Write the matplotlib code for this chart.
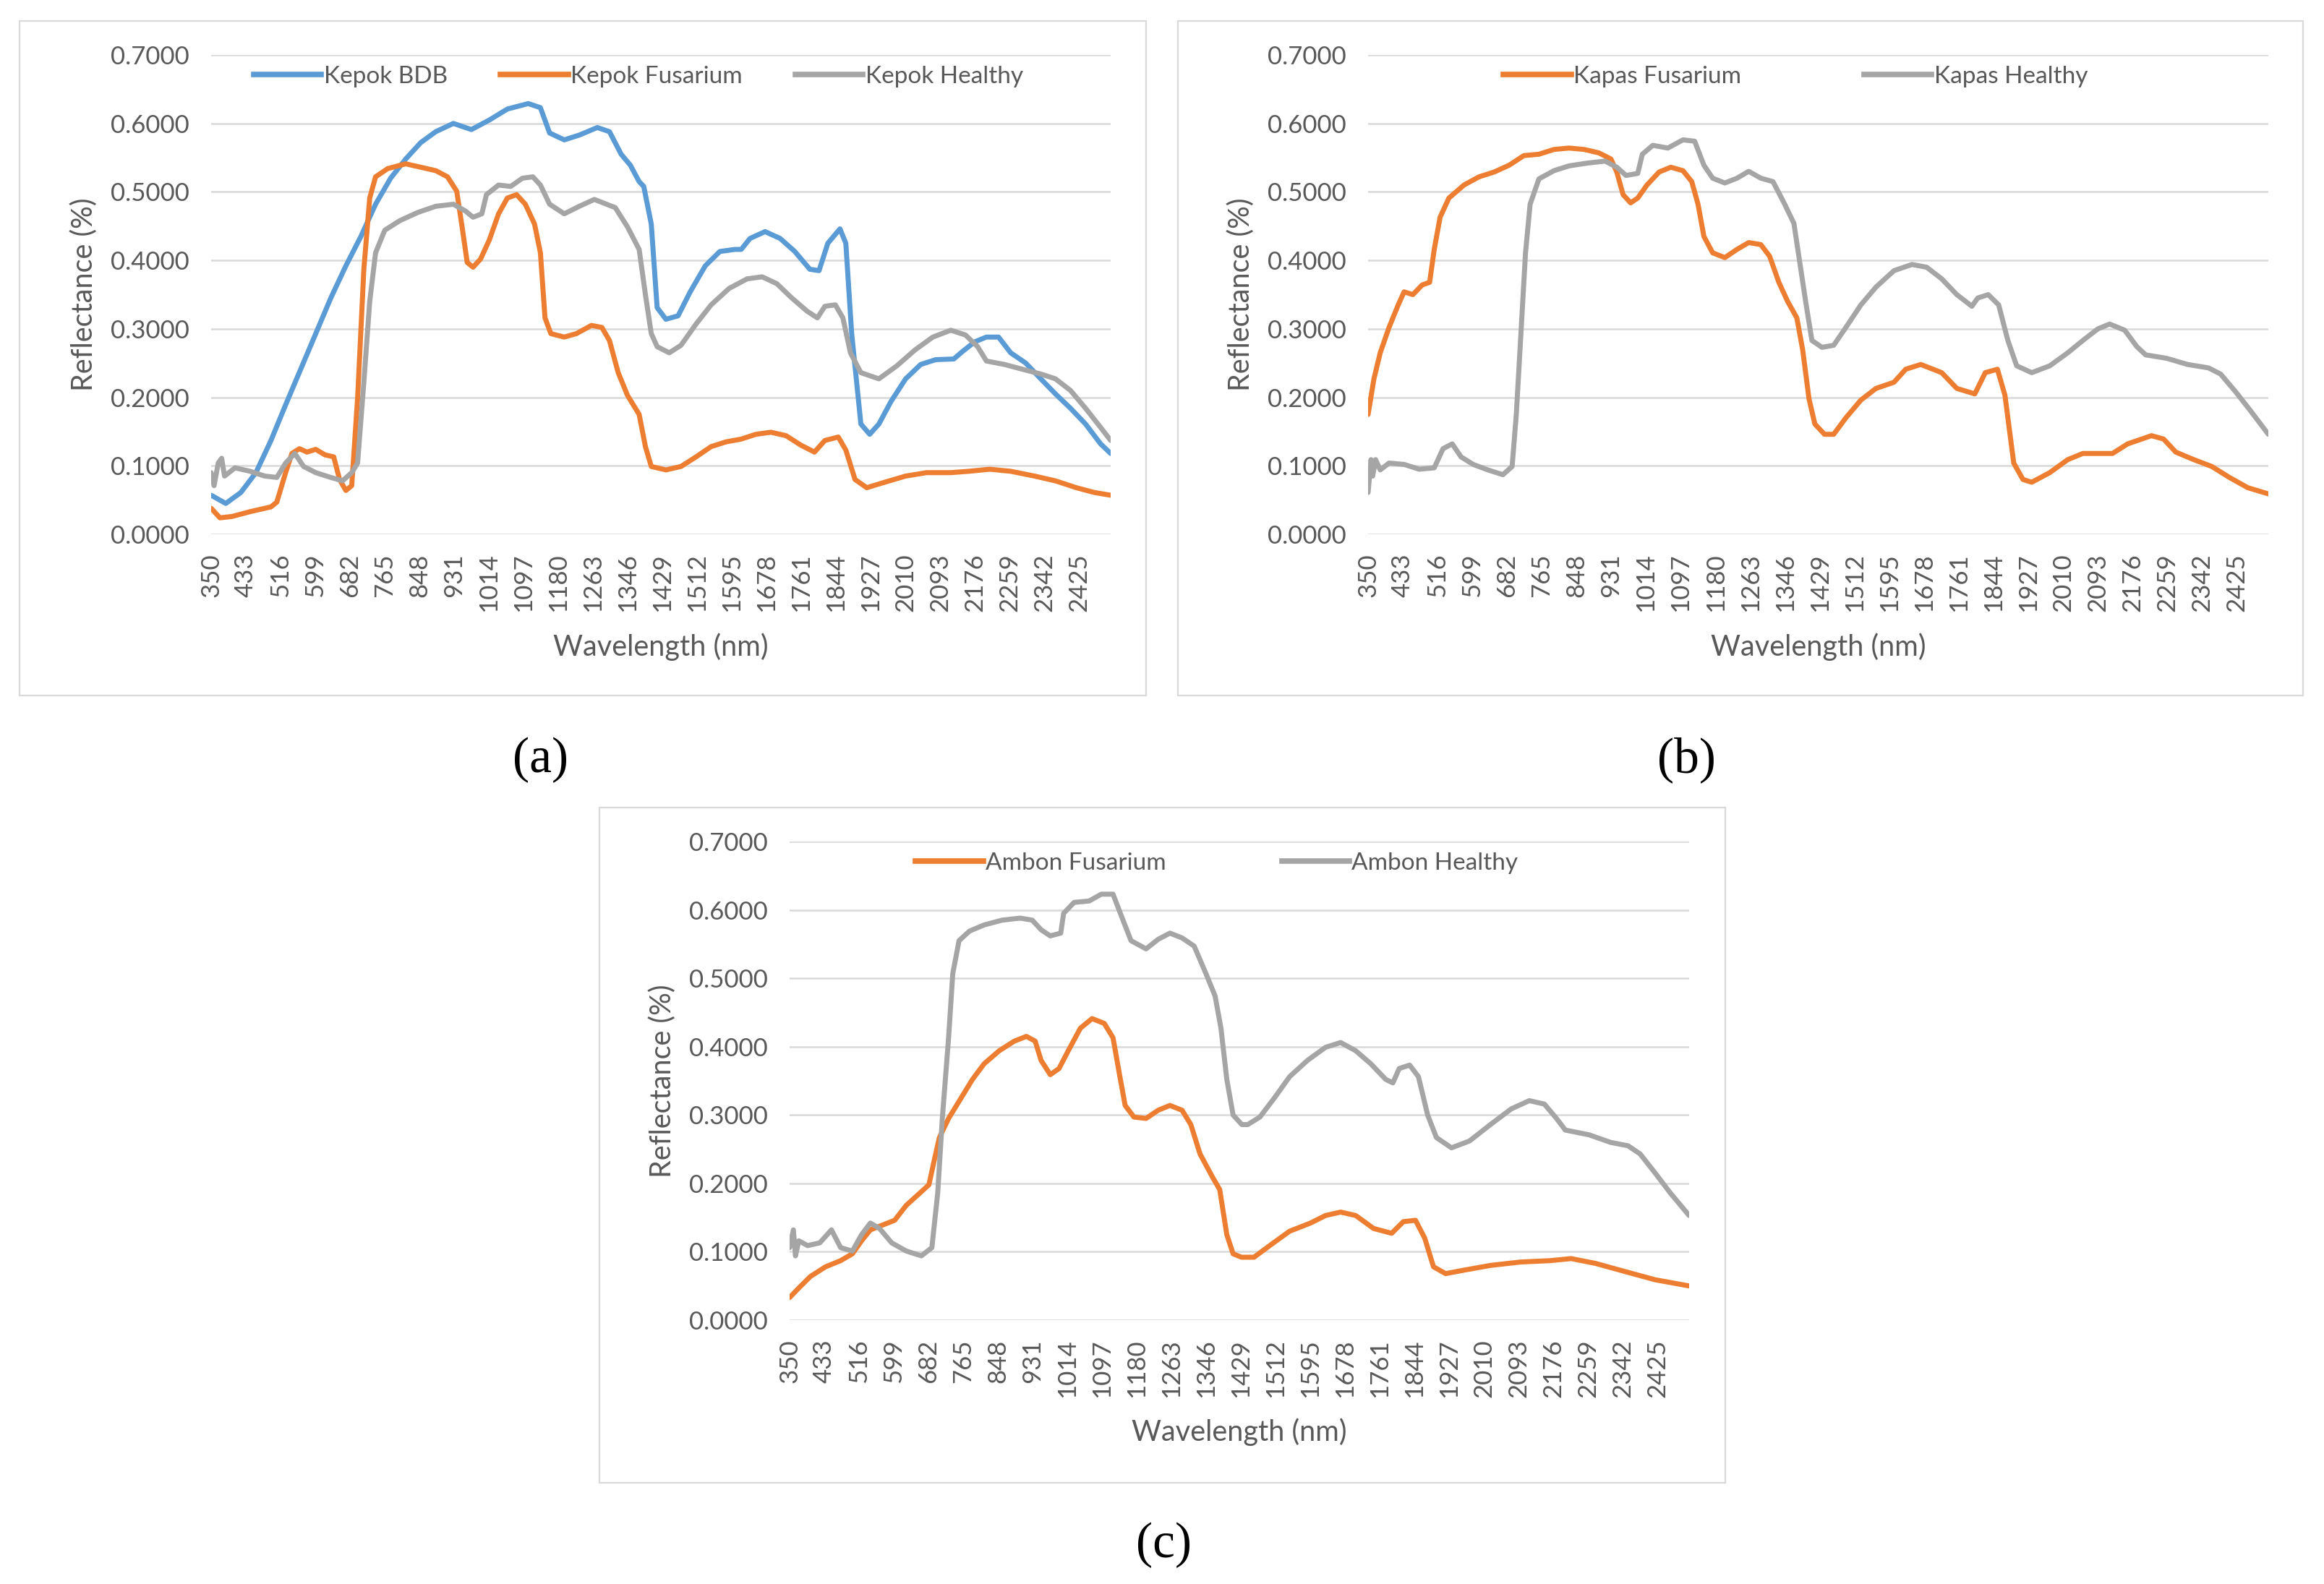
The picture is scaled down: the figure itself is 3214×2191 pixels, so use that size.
import matplotlib
matplotlib.use("Agg")
import matplotlib.pyplot as plt
from matplotlib.patches import Rectangle
from matplotlib.lines import Line2D
import numpy as np

plt.rcParams['font.family'] = ['Lato', 'DejaVu Sans']

# ---------------- data (wavelength nm, reflectance) ----------------
kepok_bdb = [(350, .057), (385, .045), (421, .061), (457, .090), (493, .137), (528, .189), (564, .241),
             (600, .293), (636, .345), (672, .392), (708, .435), (743, .482), (779, .520), (815, .548),
             (851, .572), (887, .588), (929, .600), (972, .591), (1015, .605), (1058, .621), (1108, .629),
             (1137, .623), (1159, .586), (1194, .576), (1230, .583), (1273, .594), (1302, .588), (1330, .555),
             (1352, .539), (1373, .515), (1384, .508), (1402, .453), (1416, .331), (1437, .314), (1466, .319),
             (1495, .354), (1531, .392), (1566, .413), (1602, .416), (1617, .416), (1638, .432), (1674, .442),
             (1710, .432), (1745, .413), (1781, .387), (1803, .385), (1824, .425), (1853, .446), (1867, .425),
             (1881, .293), (1903, .161), (1924, .146), (1946, .161), (1975, .194), (2010, .227), (2046, .248),
             (2082, .255), (2125, .256), (2146, .267), (2175, .281), (2203, .288), (2232, .288), (2261, .265),
             (2297, .250), (2333, .227), (2368, .205), (2404, .184), (2440, .161), (2476, .132), (2500, .118)]

kepok_fusarium = [(350, .038), (371, .024), (400, .026), (443, .033), (493, .040), (507, .047), (528, .090),
                  (543, .118), (561, .125), (579, .120), (600, .124), (622, .116), (643, .113), (657, .080),
                  (672, .064), (686, .071), (700, .198), (715, .387), (729, .491), (743, .522), (772, .534),
                  (815, .541), (851, .536), (887, .531), (915, .522), (937, .501), (951, .444), (962, .397),
                  (976, .390), (994, .402), (1015, .430), (1037, .468), (1058, .491), (1080, .496), (1101, .482),
                  (1123, .453), (1137, .411), (1148, .316), (1162, .293), (1194, .288), (1223, .293), (1259, .305),
                  (1284, .302), (1302, .283), (1323, .236), (1345, .203), (1373, .175), (1388, .128), (1402, .099),
                  (1437, .094), (1473, .099), (1509, .113), (1545, .128), (1581, .135), (1617, .139), (1652, .146),
                  (1688, .149), (1724, .144), (1760, .130), (1792, .120), (1817, .137), (1849, .142), (1867, .123),
                  (1889, .080), (1917, .068), (1960, .076), (2010, .085), (2060, .090), (2118, .090), (2161, .092),
                  (2211, .095), (2261, .092), (2318, .085), (2368, .078), (2418, .068), (2461, .061), (2500, .057)]

kepok_healthy = [(350, .090), (357, .071), (367, .104), (375, .111), (382, .085), (407, .097), (443, .092),
                 (478, .085), (507, .083), (528, .104), (550, .118), (571, .099), (600, .090), (636, .083),
                 (664, .078), (686, .090), (700, .104), (715, .222), (729, .340), (743, .411), (765, .444),
                 (801, .458), (844, .470), (887, .479), (929, .482), (958, .472), (976, .463), (997, .468),
                 (1008, .496), (1037, .510), (1066, .508), (1094, .520), (1119, .522), (1137, .510), (1159, .482),
                 (1194, .468), (1230, .479), (1266, .489), (1295, .482), (1316, .477), (1345, .449), (1373, .416),
                 (1388, .350), (1402, .293), (1416, .274), (1445, .265), (1473, .276), (1509, .307), (1545, .335),
                 (1588, .359), (1631, .373), (1667, .376), (1702, .366), (1738, .345), (1774, .326), (1799, .316),
                 (1817, .333), (1842, .335), (1860, .316), (1878, .265), (1903, .236), (1946, .227), (1989, .246),
                 (2032, .269), (2075, .288), (2118, .298), (2153, .291), (2182, .274), (2203, .253), (2246, .248),
                 (2289, .241), (2333, .234), (2368, .227), (2404, .210), (2440, .184), (2476, .156), (2500, .137)]

kapas_fusarium = [(350, .175), (364, .227), (379, .265), (400, .302), (422, .335), (436, .354), (457, .350),
                  (479, .364), (497, .368), (508, .416), (522, .463), (543, .491), (579, .510), (615, .522),
                  (651, .529), (687, .539), (722, .553), (758, .555), (794, .562), (830, .564), (866, .562),
                  (901, .557), (930, .548), (944, .529), (959, .496), (977, .484), (994, .491), (1016, .510),
                  (1045, .529), (1073, .536), (1102, .531), (1123, .515), (1138, .482), (1152, .435), (1173, .411),
                  (1202, .404), (1231, .416), (1259, .426), (1288, .423), (1309, .406), (1331, .368), (1352, .340),
                  (1374, .316), (1388, .269), (1403, .198), (1417, .161), (1440, .146), (1462, .146), (1491, .170),
                  (1527, .196), (1563, .213), (1606, .222), (1634, .241), (1670, .248), (1720, .236), (1756, .213),
                  (1799, .205), (1824, .236), (1853, .241), (1871, .203), (1892, .104), (1914, .080), (1935, .076),
                  (1978, .090), (2021, .109), (2057, .118), (2128, .118), (2164, .132), (2221, .144), (2250, .139),
                  (2279, .120), (2322, .109), (2365, .099), (2407, .083), (2451, .068), (2500, .059)]

kapas_healthy = [(350, .061), (357, .109), (361, .085), (368, .109), (379, .094), (400, .104), (436, .102),
                 (472, .095), (508, .097), (529, .125), (551, .132), (572, .113), (601, .102), (636, .094),
                 (672, .087), (694, .099), (704, .175), (715, .293), (726, .411), (737, .482), (758, .519),
                 (794, .531), (830, .538), (873, .542), (916, .545), (944, .536), (966, .524), (994, .527),
                 (1005, .555), (1030, .568), (1066, .564), (1102, .576), (1130, .574), (1152, .539), (1173, .520),
                 (1202, .513), (1231, .520), (1259, .530), (1288, .520), (1317, .515), (1345, .482), (1367, .454),
                 (1381, .397), (1395, .340), (1410, .283), (1434, .273), (1462, .276), (1491, .302), (1527, .335),
                 (1563, .361), (1606, .385), (1649, .394), (1684, .390), (1720, .373), (1756, .350), (1792, .333),
                 (1806, .345), (1831, .350), (1856, .335), (1878, .283), (1899, .246), (1935, .236), (1978, .246),
                 (2021, .265), (2057, .283), (2093, .300), (2121, .307), (2157, .298), (2186, .274), (2207, .262),
                 (2257, .257), (2307, .248), (2357, .243), (2386, .234), (2422, .208), (2458, .180), (2500, .146)]

ambon_fusarium = [(350, .033), (372, .047), (400, .064), (436, .078), (472, .087), (500, .097), (522, .116),
                  (543, .132), (572, .139), (601, .146), (629, .168), (658, .184), (683, .198), (694, .229),
                  (708, .267), (730, .295), (758, .323), (787, .352), (815, .375), (851, .394), (887, .408),
                  (916, .415), (937, .408), (951, .380), (973, .359), (994, .368), (1016, .394), (1045, .427),
                  (1073, .441), (1102, .434), (1123, .413), (1138, .361), (1152, .314), (1173, .297), (1202, .295),
                  (1231, .307), (1259, .314), (1288, .307), (1309, .286), (1331, .243), (1360, .210), (1378, .191),
                  (1395, .125), (1410, .097), (1430, .092), (1460, .092), (1502, .111), (1545, .130), (1595, .142),
                  (1631, .153), (1667, .158), (1703, .153), (1746, .134), (1789, .127), (1817, .144), (1846, .146),
                  (1868, .120), (1889, .078), (1918, .068), (1961, .073), (2025, .080), (2097, .085), (2168, .087),
                  (2218, .090), (2276, .083), (2347, .071), (2419, .059), (2500, .050)]

ambon_healthy = [(350, .106), (359, .132), (364, .094), (372, .116), (393, .109), (422, .113), (450, .132),
                 (472, .106), (500, .101), (522, .125), (543, .142), (565, .134), (594, .113), (629, .101),
                 (665, .094), (690, .106), (704, .186), (715, .295), (730, .413), (740, .507), (755, .555),
                 (780, .569), (815, .578), (858, .585), (901, .588), (930, .585), (951, .571), (973, .562),
                 (998, .566), (1005, .595), (1030, .611), (1066, .613), (1095, .623), (1123, .623), (1145, .588),
                 (1166, .555), (1202, .543), (1231, .557), (1259, .566), (1288, .559), (1317, .547), (1345, .507),
                 (1367, .474), (1381, .427), (1395, .352), (1410, .300), (1431, .286), (1445, .286), (1474, .297),
                 (1510, .326), (1545, .356), (1588, .380), (1631, .399), (1667, .406), (1703, .394), (1739, .375),
                 (1775, .352), (1792, .347), (1807, .368), (1832, .373), (1853, .356), (1875, .300), (1896, .267),
                 (1932, .252), (1975, .262), (2025, .286), (2075, .309), (2118, .321), (2154, .316), (2183, .295),
                 (2204, .278), (2261, .271), (2312, .260), (2354, .255), (2383, .243), (2419, .215), (2455, .186),
                 (2500, .153)]

x_ticks = list(range(350, 2426, 83))
y_ticks = [0.0, 0.1, 0.2, 0.3, 0.4, 0.5, 0.6, 0.7]

series_a = [("Kepok BDB", kepok_bdb, "#5B9BD5"),
            ("Kepok Fusarium", kepok_fusarium, "#ED7D31"),
            ("Kepok Healthy", kepok_healthy, "#A5A5A5")]
series_b = [("Kapas Fusarium", kapas_fusarium, "#ED7D31"),
            ("Kapas Healthy", kapas_healthy, "#A5A5A5")]
series_c = [("Ambon Fusarium", ambon_fusarium, "#ED7D31"),
            ("Ambon Healthy", ambon_healthy, "#A5A5A5")]

# ---------------- layout ----------------
W, H = 3214, 2191
fig = plt.figure(figsize=(W / 100, H / 100), dpi=100)
fig.patch.set_facecolor("white")

TXT = "#595959"
GRID = "#D9D9D9"


def px_axes(x0, y0, x1, y1):
    return fig.add_axes([x0 / W, 1 - y1 / H, (x1 - x0) / W, (y1 - y0) / H])


def box(x0, y0, x1, y1):
    fig.add_artist(Rectangle((x0 / W, 1 - y1 / H), (x1 - x0) / W, (y1 - y0) / H,
                             transform=fig.transFigure, fill=False,
                             edgecolor=GRID, lw=1.6))


def panel(ax, series, colspace):
    handles = []
    for name, pts, col in series:
        arr = np.array(pts)
        ax.plot(arr[:, 0], arr[:, 1], color=col, lw=5.0, solid_joinstyle="round",
                solid_capstyle="round")
        handles.append(Line2D([0], [0], color=col, lw=5.5, label=name))
    ax.set_xlim(350, 2500)
    ax.set_ylim(0, 0.7)
    ax.set_yticks(y_ticks)
    ax.set_yticklabels([f"{v:.4f}" for v in y_ticks])
    ax.set_xticks(x_ticks)
    ax.set_xticklabels([str(v) for v in x_ticks], rotation=90)
    for s in ax.spines.values():
        s.set_visible(False)
    ax.yaxis.grid(True, color=GRID, lw=1.8)
    ax.set_axisbelow(True)
    ax.tick_params(axis="both", length=0, labelsize=25, labelcolor=TXT)
    ax.tick_params(axis="y", pad=22)
    ax.tick_params(axis="x", pad=19)
    ax.set_ylabel("Reflectance (%)", fontsize=28.5, color=TXT)
    ax.set_xlabel("Wavelength (nm)", fontsize=28.5, color=TXT)
    ax.yaxis.set_label_coords(-0.126, 0.5)
    ax.xaxis.set_label_coords(0.5, -0.205)
    leg = ax.legend(handles=handles, loc="center", bbox_to_anchor=(0.475, 0.955),
                    ncol=len(series), frameon=False, fontsize=24, handlelength=2.8,
                    handletextpad=0.1, columnspacing=colspace)
    for t in leg.get_texts():
        t.set_color(TXT)


box(27, 29, 1585, 962)
box(1629, 29, 3185, 962)
box(829, 1117, 2386, 2051)

ax_a = px_axes(292, 76, 1536, 739)
ax_b = px_axes(1892, 76, 3137, 739)
ax_c = px_axes(1092, 1164, 2336, 1826)

panel(ax_a, series_a, 2.2)
panel(ax_b, series_b, 5.1)
panel(ax_c, series_c, 4.8)

lab_font = dict(fontsize=50, family=["Liberation Serif", "DejaVu Serif"], color="black",
                ha="center", va="center")
fig.text(748 / W, 1 - 1051 / H, "(a)", **lab_font)
fig.text(2332 / W, 1 - 1051 / H, "(b)", **lab_font)
fig.text(1609 / W, 1 - 2137 / H, "(c)", **lab_font)

fig.savefig("out.png", dpi=100, facecolor="white")
